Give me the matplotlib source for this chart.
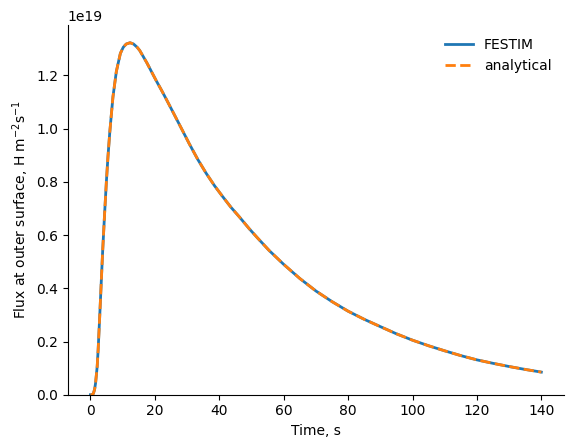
import matplotlib
matplotlib.use('Agg')
import matplotlib.pyplot as plt

# values (flux in units of 1e19)
time = [0, 0.5, 0.9, 1.3, 1.6, 2.1, 2.4, 2.85, 3.35, 3.8, 4.4, 4.95, 5.45,
        6.0, 6.4, 7.0, 8.05, 9.3, 10.2, 11.1, 12.3, 13.4, 14.5, 15.3, 17.5,
        20.4, 22.0, 23.5, 25.6, 28.2, 30.7, 33.3, 35.9, 38.5, 41.1, 43.6, 46.2,
        49.3, 51.9, 55.5, 60, 65, 70, 75, 80, 85, 90, 95, 100, 105, 110, 115,
        120, 125, 130, 135, 140]
festim_flux = [0, 0.0, 0.004, 0.02, 0.044, 0.106, 0.17, 0.285, 0.42, 0.54,
               0.68, 0.80, 0.895, 0.985, 1.04, 1.12, 1.215, 1.283, 1.306,
               1.318, 1.323, 1.318, 1.306, 1.294, 1.248, 1.181, 1.146, 1.112,
               1.063, 1.002, 0.943, 0.885, 0.833, 0.786, 0.744, 0.705, 0.669,
               0.624, 0.589, 0.542, 0.490, 0.437, 0.390, 0.350, 0.314, 0.2835,
               0.256, 0.229, 0.205, 0.184, 0.165, 0.147, 0.131, 0.118, 0.106,
               0.095, 0.085]
analytical_flux = list(festim_flux)

scale = 1e19

fig, ax = plt.subplots(figsize=(6.4, 4.8))
ax.plot(time, [v * scale for v in festim_flux], label='FESTIM', linewidth=2)
ax.plot(time, [v * scale for v in analytical_flux], '--', label='analytical', linewidth=2)

ax.set_ylim(bottom=0)
ax.set_xlabel('Time, s')
ax.set_ylabel('Flux at outer surface, H m$^{-2}$s$^{-1}$')
ax.spines['top'].set_visible(False)
ax.spines['right'].set_visible(False)
ax.legend(frameon=False)

plt.savefig('out.png', dpi=100, bbox_inches='tight')
plt.close()
